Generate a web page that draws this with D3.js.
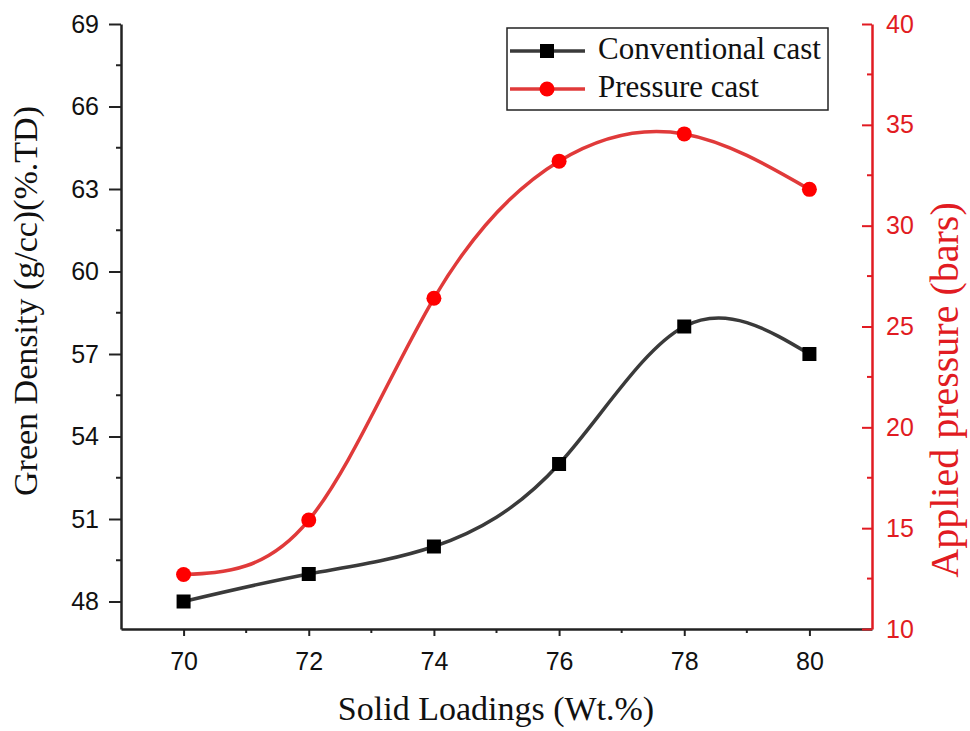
<!DOCTYPE html>
<html>
<head>
<meta charset="utf-8">
<script src="https://cdn.jsdelivr.net/npm/d3@7"></script>
<style>
  body { margin: 0; background: #fff; }
  svg { display: block; }
</style>
</head>
<body>
<div id="chart"></div>
<script>
// data
const solidLoadings = [70, 72, 74, 76, 78, 80]
const greenDensity = [48, 49, 50, 53, 58, 57]          // conventional cast, left axis
const appliedPressure = [12.7, 15.4, 26.4, 33.2, 34.55, 31.8] // pressure cast, right axis
const xTicks = [70, 72, 74, 76, 78, 80]
const yLeftTicks = [48, 51, 54, 57, 60, 63, 66, 69]
const yRightTicks = [10, 15, 20, 25, 30, 35, 40]

const width = 970, height = 731
const margin = { top: 24, right: 98, bottom: 102, left: 121 }
const plotW = width - margin.left - margin.right
const plotH = height - margin.top - margin.bottom
const red = '#e11b22'
const tickFont = '"Liberation Sans", Arial, sans-serif'
const serif = '"Liberation Serif", "Times New Roman", serif'

const x = d3.scaleLinear().domain([69, 81]).range([0, plotW])
const yL = d3.scaleLinear().domain([47, 69]).range([plotH, 0])
const yR = d3.scaleLinear().domain([10, 40]).range([plotH, 0])

const svg = d3.select('#chart').append('svg')
  .attr('width', width).attr('height', height)
const g = svg.append('g').attr('transform', `translate(${margin.left},${margin.top})`)

// minor ticks (no labels)
const minor = (gAxis, scale, vals, horizontal, color, len) => {
  gAxis.selectAll('.minor').data(vals).enter().append('line')
    .attr('class', 'minor')
    .attr('stroke', color).attr('stroke-width', 2)
    .each(function (d) {
      const s = d3.select(this)
      if (horizontal) s.attr('x1', scale(d)).attr('x2', scale(d)).attr('y1', 0).attr('y2', len)
      else s.attr('y1', scale(d)).attr('y2', scale(d)).attr('x1', 0).attr('x2', -len)
    })
}

// x axis
const gX = g.append('g').attr('transform', `translate(0,${plotH})`)
  .call(d3.axisBottom(x).tickValues(xTicks).tickSize(7).tickPadding(16).tickSizeOuter(0))
gX.select('.domain').attr('stroke', '#222').attr('stroke-width', 2.5)
gX.selectAll('.tick line').attr('stroke', '#222').attr('stroke-width', 2)
gX.selectAll('.tick text').attr('font-family', tickFont).attr('font-size', 25).attr('fill', '#111')
minor(gX, x, [71, 73, 75, 77, 79], true, '#222', 4)

// left y axis
const gYL = g.append('g')
  .call(d3.axisLeft(yL).tickValues(yLeftTicks).tickSize(12).tickPadding(10).tickSizeOuter(0))
gYL.select('.domain').attr('stroke', '#222').attr('stroke-width', 2.5)
gYL.selectAll('.tick line').attr('stroke', '#222').attr('stroke-width', 2)
gYL.selectAll('.tick text').attr('font-family', tickFont).attr('font-size', 25).attr('fill', '#111')
minor(gYL, yL, [49.5, 52.5, 55.5, 58.5, 61.5, 64.5, 67.5], false, '#222', 5)

// right y axis, ticks pointing inward
const gYR = g.append('g').attr('transform', `translate(${plotW},0)`)
  .call(d3.axisRight(yR).tickValues(yRightTicks).tickSize(0).tickPadding(14).tickSizeOuter(0))
gYR.select('.domain').attr('stroke', red).attr('stroke-width', 2.5)
gYR.selectAll('.tick text').attr('font-family', tickFont).attr('font-size', 25).attr('fill', red)
gYR.selectAll('.tick').append('line')
  .attr('x1', 0).attr('x2', -10).attr('stroke', red).attr('stroke-width', 2)
minor(gYR, yR, [12.5, 17.5, 22.5, 27.5, 32.5, 37.5], false, red, 5)

// axis titles
svg.append('text')
  .attr('x', 496).attr('y', 720)
  .attr('text-anchor', 'middle')
  .attr('font-family', serif).attr('font-size', 34).attr('fill', '#111')
  .text('Solid Loadings (Wt.%)')

svg.append('text')
  .attr('transform', 'translate(37,301) rotate(-90)')
  .attr('text-anchor', 'middle')
  .attr('font-family', serif).attr('font-size', 34).attr('fill', '#111')
  .text('Green Density (g/cc)(%.TD)')

svg.append('text')
  .attr('transform', 'translate(958,390) rotate(-90)')
  .attr('text-anchor', 'middle')
  .attr('font-family', serif).attr('font-size', 40).attr('fill', red)
  .text('Applied pressure (bars)')

// series
const conv = solidLoadings.map((d, i) => ({ x: d, y: greenDensity[i] }))
const pres = solidLoadings.map((d, i) => ({ x: d, y: appliedPressure[i] }))

g.append('path').datum(conv)
  .attr('fill', 'none').attr('stroke', '#3a3a3a').attr('stroke-width', 3.5)
  .attr('d', d3.line().x(d => x(d.x)).y(d => yL(d.y)).curve(d3.curveNatural))

g.append('path').datum(pres)
  .attr('fill', 'none').attr('stroke', '#e03a3a').attr('stroke-width', 3.5)
  .attr('d', d3.line().x(d => x(d.x)).y(d => yR(d.y)).curve(d3.curveNatural))

g.selectAll('.sq').data(conv).enter().append('rect')
  .attr('x', d => x(d.x) - 7).attr('y', d => yL(d.y) - 7)
  .attr('width', 14).attr('height', 14).attr('fill', '#000')

g.selectAll('.dot').data(pres).enter().append('circle')
  .attr('cx', d => x(d.x)).attr('cy', d => yR(d.y))
  .attr('r', 7.5).attr('fill', '#ff0000')

// legend
const leg = svg.append('g').attr('transform', 'translate(507,28)')
leg.append('rect').attr('width', 321).attr('height', 82)
  .attr('fill', '#fff').attr('stroke', '#222').attr('stroke-width', 1.5)
const legItems = [
  { label: 'Conventional cast', color: '#3a3a3a', mark: 'sq' },
  { label: 'Pressure cast', color: '#e03a3a', mark: 'dot' }
]
legItems.forEach((it, i) => {
  const cy = 23 + i * 38
  leg.append('line').attr('x1', 3).attr('x2', 78).attr('y1', cy).attr('y2', cy)
    .attr('stroke', it.color).attr('stroke-width', 3.5)
  if (it.mark === 'sq') {
    leg.append('rect').attr('x', 33).attr('y', cy - 7).attr('width', 14).attr('height', 14).attr('fill', '#000')
  } else {
    leg.append('circle').attr('cx', 40).attr('cy', cy).attr('r', 7.5).attr('fill', '#ff0000')
  }
  leg.append('text').attr('x', 91).attr('y', cy + 8)
    .attr('font-family', serif).attr('font-size', 31).attr('fill', '#111')
    .text(it.label)
})
</script>
</body>
</html>
